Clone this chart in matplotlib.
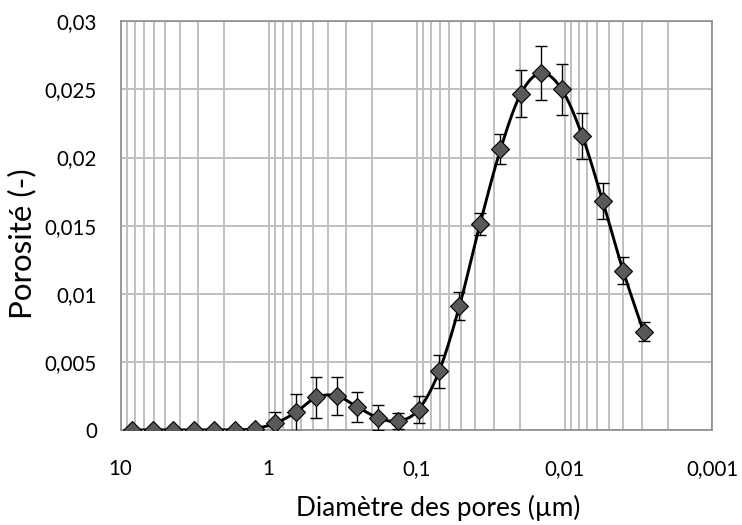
import numpy as np
import matplotlib
matplotlib.use('Agg')
from matplotlib import pyplot as plt
from matplotlib.ticker import FixedLocator, LogLocator, NullFormatter

# pore diameter (um) and porosity
diametre = [8.36, 6.08, 4.42, 3.22, 2.34, 1.70, 1.24, 0.900, 0.655, 0.476,
            0.346, 0.252, 0.183, 0.133, 0.0969, 0.0705, 0.0513, 0.0373,
            0.0271, 0.0197, 0.01435, 0.01044, 0.00759, 0.00552, 0.00402,
            0.00292]
porosite = [0, 0, 0, 0, 0, 0, 0.0001, 0.0005, 0.0013, 0.0024,
            0.0025, 0.0017, 0.0009, 0.00065, 0.0015, 0.0043, 0.0091, 0.0151,
            0.0206, 0.0247, 0.0262, 0.0250, 0.0216, 0.0168, 0.0117,
            0.0072]
erreur = [0, 0, 0, 0, 0, 0, 0, 0.0008, 0.00135, 0.0015,
          0.0014, 0.0011, 0.0009, 0.0006, 0.001, 0.0012, 0.001, 0.0008,
          0.0011, 0.0017, 0.002, 0.0019, 0.0017, 0.0013, 0.001,
          0.0007]
yticks = [0, 0.005, 0.01, 0.015, 0.02, 0.025, 0.03]
ytick_labels = ['0', '0,005', '0,01', '0,015', '0,02', '0,025', '0,03']
xticks = [10, 1, 0.1, 0.01, 0.001]
xtick_labels = ['10', '1', '0,1', '0,01', '0,001']

plt.rcParams['font.family'] = ['Lato', 'DejaVu Sans']


def smooth(xs, ys, sx, sy, n=30):
    # excel-like smoothed line (bezier, 1/6 tangents) in screen-ish units
    px = np.asarray(xs) * sx
    py = np.asarray(ys) * sy
    P = np.column_stack([px, py])
    P = np.vstack([P[0], P, P[-1]])
    out = []
    t = np.linspace(0, 1, n)[:, None]
    for i in range(1, len(P) - 2):
        p0 = P[i]
        p3 = P[i + 1]
        p1 = p0 + (P[i + 1] - P[i - 1]) / 6.0
        p2 = p3 - (P[i + 2] - P[i]) / 6.0
        seg = ((1 - t) ** 3) * p0 + 3 * ((1 - t) ** 2) * t * p1 \
            + 3 * (1 - t) * t ** 2 * p2 + t ** 3 * p3
        out.append(seg)
    out = np.vstack(out)
    return out[:, 0] / sx, out[:, 1] / sy


fig = plt.figure(figsize=(7.42, 5.25), dpi=100)
ax = fig.add_axes([0.1627, 0.181, 0.7975, 0.7784])

lx = np.log10(diametre)
cx, cy = smooth(-lx, porosite, 592 / 4.0, 409 / 0.03)
ax.plot(10 ** (-cx), cy, color='black', lw=2.1, zorder=3)
ax.errorbar(diametre, porosite, yerr=erreur, fmt='none', ecolor='black',
            elinewidth=1, capsize=4, capthick=1, zorder=4)
ax.plot(diametre, porosite, ls='none', marker='D', markersize=9.5,
        markerfacecolor='#595959', markeredgecolor='black',
        markeredgewidth=0.8, zorder=5)

ax.set_xscale('log')
ax.set_xlim(10, 0.001)
ax.set_ylim(0, 0.03)

ax.xaxis.set_major_locator(FixedLocator(xticks))
ax.set_xticklabels(xtick_labels)
ax.xaxis.set_minor_locator(LogLocator(base=10, subs=np.arange(2, 10)))
ax.xaxis.set_minor_formatter(NullFormatter())
ax.set_yticks(yticks)
ax.set_yticklabels(ytick_labels)
# only the zero level shows a small tick mark in the original
ax.yaxis.set_minor_locator(FixedLocator([0]))

ax.grid(True, which='both', axis='x', color='#c0c0c0', lw=1.4)
ax.grid(True, which='major', axis='y', color='#c0c0c0', lw=1.4)
ax.set_axisbelow(True)

for s in ax.spines.values():
    s.set_color('#8c8c8c')
    s.set_linewidth(1.2)

ax.tick_params(axis='x', which='both', length=0, pad=21, labelsize=14.8)
ax.tick_params(axis='y', which='major', length=0, pad=17, labelsize=14.8)
ax.tick_params(axis='y', which='minor', length=7, width=1.2,
               color='#505050', direction='out')

ax.set_xlabel('Diamètre des pores (µm)', fontsize=18.8)
ax.set_ylabel('Porosité (-)', fontsize=22.5)
ax.xaxis.set_label_coords(0.536, -0.158)
ax.yaxis.set_label_coords(-0.142, 0.455)

plt.savefig('out.png', dpi=100)
